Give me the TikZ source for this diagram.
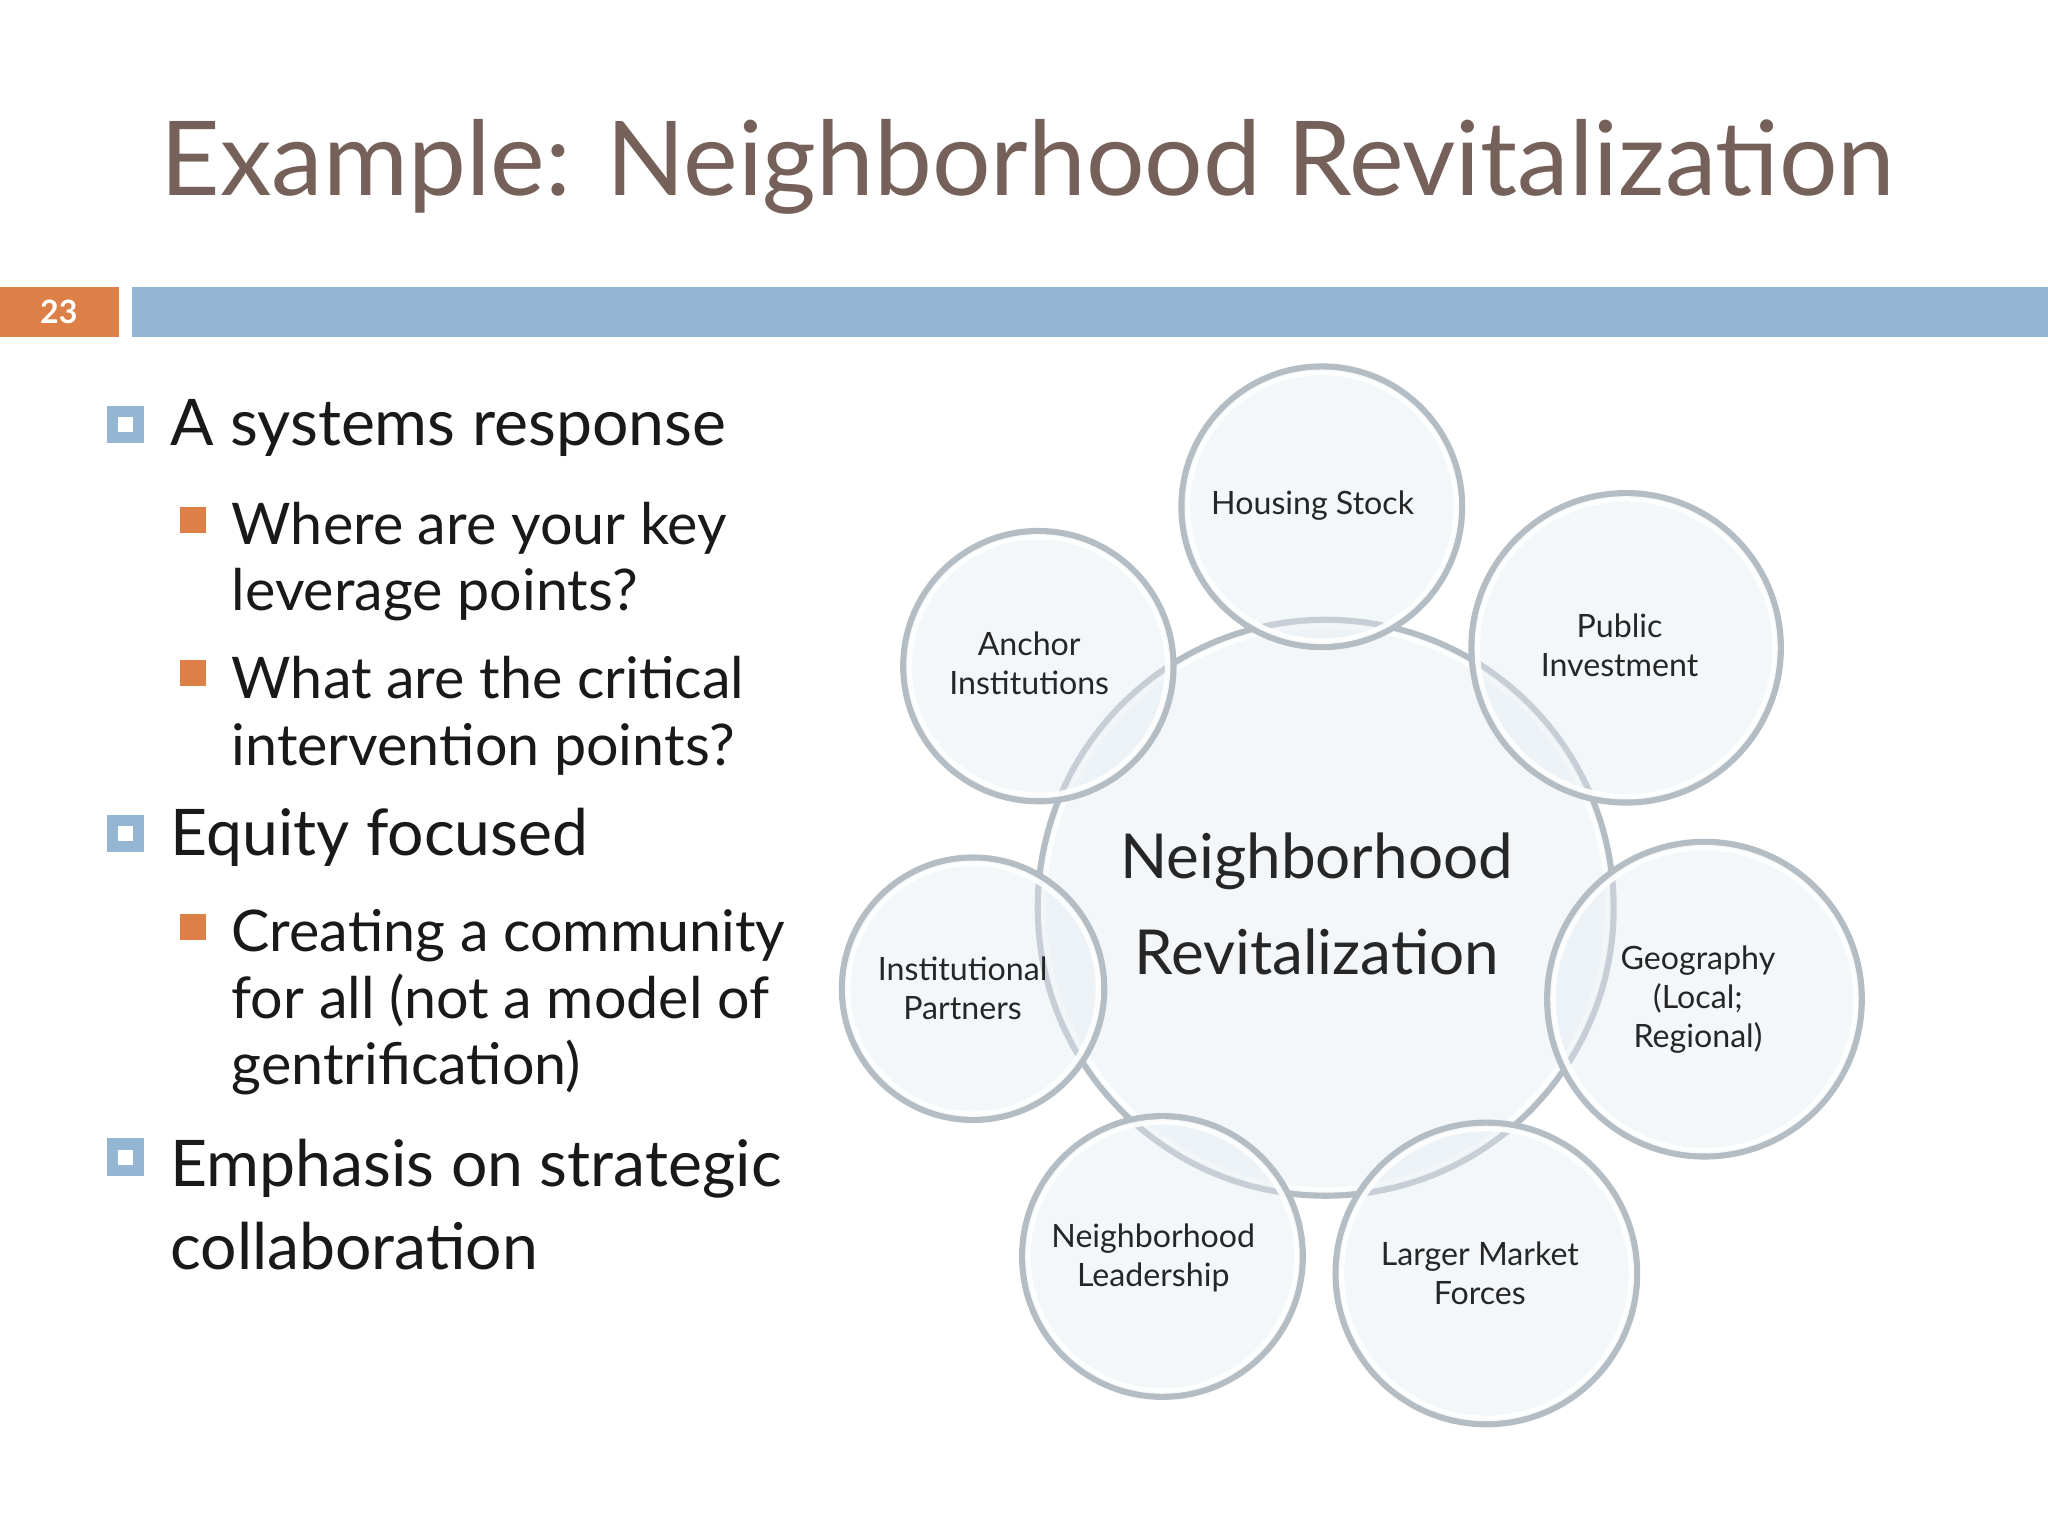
\documentclass[tikz,border=0pt]{standalone}
\usepackage{fontspec}
\setmainfont{Lato}
\definecolor{titlec}{HTML}{76615A}
\definecolor{barblue}{HTML}{94B6D2}
\definecolor{barorange}{HTML}{DD8047}
\definecolor{rim}{HTML}{B4BCC4}
\definecolor{bubble}{HTML}{E4EBF2}
\begin{document}
\begin{tikzpicture}[x=0.01cm,y=-0.01cm,
  bubc/.style={draw=rim,line width=1.6pt,fill=bubble,fill opacity=0.4},
  lab/.style={align=center,text=black!85,font=\fontsize{7}{8.5}\selectfont},
  mainb/.style={anchor=west,font=\fontsize{14}{18}\selectfont,text=black!90,align=left},
  subb/.style={anchor=west,font=\fontsize{12.5}{15.5}\selectfont,text=black!90,align=left}]
\useasboundingbox (0,0) rectangle (1568,1176);
\fill[white] (0,0) rectangle (1568,1176);
\node[text=titlec,font=\fontsize{22.5}{26}\selectfont] (title) at (787,128) {Example: Neighborhood Revitalization};
\fill[barorange] (0,220) rectangle (91,258);
\node[text=white,font=\bfseries\fontsize{7}{8}\selectfont] (num) at (45,239) {23};
\fill[barblue] (101,220) rectangle (1568,258);
% bullets
\foreach \y in {325,638,886} {\draw[barblue,line width=2.5pt] (86,\y-10) rectangle (106,\y+10);}
\foreach \y in {398,515,710} {\fill[barorange] (138,\y-10) rectangle (158,\y+10);}
\node[mainb] (b1) at (118,328) {A systems response};
\node[subb,anchor=north west] (s1) at (165,372) {Where are your key\\[-1pt]leverage points?};
\node[subb,anchor=north west] (s2) at (165,490) {What are the critical\\[-1pt]intervention points?};
\node[mainb] (b2) at (118,641) {Equity focused};
\node[subb,anchor=north west] (s3) at (165,684) {Creating a community\\[-1pt]for all (not a model of\\[-1pt]gentrification)};
\node[mainb,anchor=north west] (b3) at (118,860) {Emphasis on strategic\\collaboration};
% circles
\foreach \cx/\cy/\r in {1015/695/220,1012/388/107,1245/496/118,1305/765/120,1138/975/115,890/962/107,745/757/100,795/510/103}{
  \draw[bubc] (\cx,\cy) circle (\r);
  \draw[white,line width=1.2pt,opacity=0.9] (\cx,\cy) circle (\r-4);
}
\node[lab] (hs) at (1005,387) {Housing Stock};
\node[lab] (pi) at (1240,494) {Public\\Investment};
\node[lab] (ge) at (1300,765) {Geography\\(Local;\\Regional)};
\node[lab] (lm) at (1133,975) {Larger Market\\Forces};
\node[lab] (nl) at (883,963) {Neighborhood\\Leadership};
\node[lab] (ip) at (737,757) {Institutional\\Partners};
\node[lab] (ai) at (788,508) {Anchor\\Institutions};
\node[font=\fontsize{13.5}{21}\selectfont,align=center,text=black!85] (ct) at (1008,692) {Neighborhood\\Revitalization};
\end{tikzpicture}
\end{document}
